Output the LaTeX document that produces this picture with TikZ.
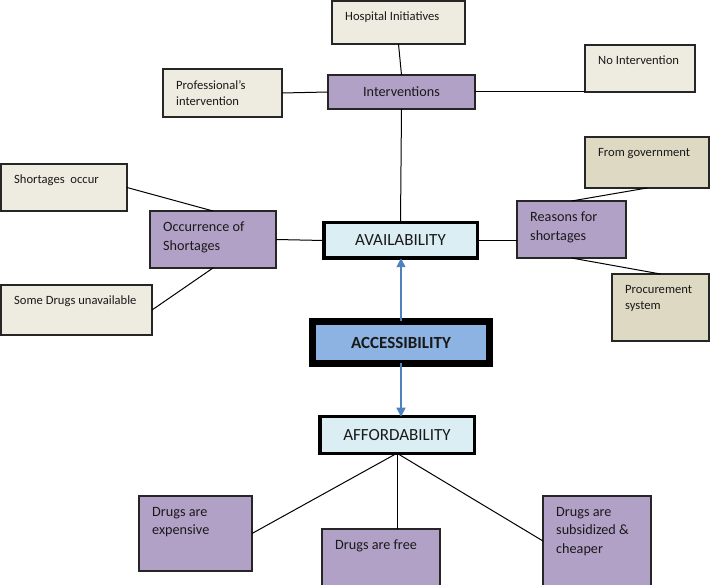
\documentclass[tikz,border=0pt]{standalone}
\usepackage{fontspec}
\setmainfont{Carlito}
\usetikzlibrary{arrows.meta,calc}
\definecolor{beige}{HTML}{EEECE1}
\definecolor{tanc}{HTML}{DDD9C3}
\definecolor{purp}{HTML}{B2A1C7}
\definecolor{lblue}{HTML}{DBEEF4}
\definecolor{accblue}{HTML}{8DB3E2}
\definecolor{arrowblue}{HTML}{4F81BD}
\tikzset{
  boxbase/.style={draw=black!85, line width=1.3pt, inner sep=0pt, outer sep=0pt},
  beigebox/.style={boxbase, fill=beige},
  tanbox/.style={boxbase, fill=tanc},
  purplebox/.style={boxbase, fill=purp},
  smalltxt/.style={inner sep=0pt, align=left, font=\fontsize{12.6}{16.5}\selectfont, text=black!90},
  bigtxt/.style={inner sep=0pt, align=left, font=\fontsize{14.2}{18.5}\selectfont, text=black!90},
  headbox/.style={draw=black, inner sep=0pt, outer sep=0pt, font=\fontsize{17}{20}\selectfont, text=black!90},
  conn/.style={draw=black, line width=1pt},
  arr/.style={draw=arrowblue, line width=1.4pt, -{Triangle[width=9pt,length=9pt]}},
}
\newcommand\mybox[8]{%
  \node[#2, minimum width={(#6-#4)*1pt}, minimum height={(#7-#5)*1pt}] (#1) at ({(#4+#6)/2},{(#5+#7)/2}) {};
  \node[#3, anchor=north west] (#1t) at ([xshift=13pt,yshift=-11pt]#1.north west) {#8};
}
\begin{document}
\begin{tikzpicture}[x=1pt,y=-1pt]
\useasboundingbox (0,0) rectangle (710,585);
% top group
\mybox{hosp}{beigebox}{smalltxt}{332}{1}{465}{44}{Hospital Initiatives}
\mybox{prof}{beigebox}{smalltxt}{163}{69}{282}{117}{Professional’s\\intervention}
\mybox{noint}{beigebox}{smalltxt}{585}{45}{695}{92}{No Intervention}
\node[purplebox, minimum width=147pt, minimum height=34pt, font=\fontsize{14.2}{18}\selectfont, text=black!90] (interv) at (401.5,92) {Interventions};
% left group
\mybox{short}{beigebox}{smalltxt}{1}{164}{127}{211}{Shortages\ \ occur}
\mybox{occ}{purplebox}{bigtxt}{150}{211}{276}{268}{Occurrence of\\Shortages}
\mybox{some}{beigebox}{smalltxt}{1}{285}{152}{335}{Some Drugs unavailable}
% right group
\mybox{reasons}{purplebox}{bigtxt}{517}{201}{626}{258}{Reasons for\\shortages}
\mybox{gov}{tanbox}{smalltxt}{585}{137}{709}{188}{From government}
\mybox{proc}{tanbox}{smalltxt}{612}{274}{709}{341}{Procurement\\system}
% centre
\node[headbox, fill=lblue, line width=3.5pt, minimum width=153.5pt, minimum height=35.5pt] (avail) at (400.5,240.5) {AVAILABILITY};
\node[headbox, fill=accblue, line width=7pt, minimum width=177pt, minimum height=42pt, font=\fontsize{17}{20}\selectfont\bfseries] (access) at (401,342.5) {ACCESSIBILITY};
\node[headbox, fill=lblue, line width=3.5pt, minimum width=154.5pt, minimum height=36.5pt] (afford) at (397,435) {AFFORDABILITY};
% bottom group
\mybox{exp}{purplebox}{bigtxt}{139}{496}{252}{571}{Drugs are\\expensive}
\mybox{free}{purplebox}{bigtxt}{322}{529}{440}{586}{Drugs are free}
\mybox{subs}{purplebox}{bigtxt}{543}{496}{651}{586}{Drugs are\\subsidized \&\\cheaper}
% connectors
\draw[conn] (hosp.south) -- (interv.north);
\draw[conn] (prof.east) -- (interv.west);
\draw[conn] (interv.east) -- (noint.south west);
\draw[conn] (interv.south) -- (avail.north);
\draw[conn] (short.east) -- (occ.north);
\draw[conn] (some.east) -- (occ.south);
\draw[conn] (occ.east) -- (avail.west);
\draw[conn] (avail.east) -- (avail.east -| reasons.west);
\draw[conn] (reasons.north) -- (gov.south);
\draw[conn] (reasons.south) -- (proc.north);
\draw[arr] (access.north) -- (access.north |- avail.south);
\draw[arr] (access.south) -- (access.south |- afford.north);
\draw[conn] (afford.south) -- (exp.east);
\draw[conn] (afford.south) -- (afford.south |- free.north);
\draw[conn] (afford.south) -- (subs.west);
\end{tikzpicture}
\end{document}
